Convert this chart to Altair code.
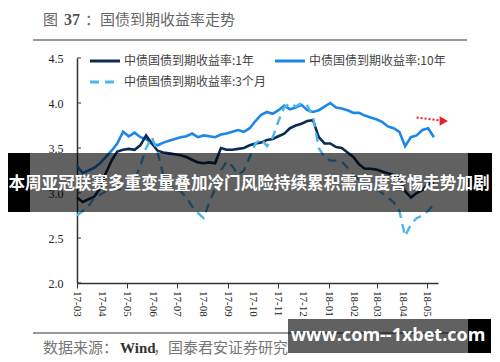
import altair as alt
import pandas as pd

# ---------------- data ----------------
week_dates = list(pd.date_range("2017-03-01", periods=63, freq="7D").strftime("%Y-%m-%d"))

y10 = [3.30, 3.22, 3.25, 3.28, 3.33, 3.40, 3.47, 3.55, 3.68, 3.63,
       3.67, 3.62, 3.60, 3.55, 3.53, 3.56, 3.58, 3.60, 3.62, 3.63,
       3.66, 3.62, 3.64, 3.63, 3.62, 3.65, 3.66, 3.68, 3.70, 3.68,
       3.72, 3.80, 3.87, 3.90, 3.88, 3.92, 3.97, 3.93, 3.95, 3.98,
       3.92, 3.90, 3.92, 3.96, 4.00, 3.95, 3.94, 3.92, 3.89, 3.89,
       3.86, 3.84, 3.82, 3.79, 3.74, 3.72, 3.68, 3.52, 3.62, 3.64,
       3.70, 3.72, 3.62]

y1 = [2.95, 2.90, 2.93, 2.96, 3.05, 3.22, 3.36, 3.46, 3.48, 3.49,
      3.48, 3.53, 3.64, 3.55, 3.47, 3.45, 3.44, 3.43, 3.42, 3.40,
      3.37, 3.34, 3.33, 3.34, 3.33, 3.50, 3.48, 3.48, 3.49, 3.50,
      3.53, 3.55, 3.56, 3.59, 3.60, 3.63, 3.66, 3.72, 3.75, 3.77,
      3.80, 3.81, 3.62, 3.55, 3.55, 3.51, 3.50, 3.45, 3.40, 3.32,
      3.27, 3.27, 3.26, 3.24, 3.22, 3.20, 3.17, 3.02, 2.95, 3.00,
      3.03, 3.10, 3.12]

m3 = [2.75, 2.80, 2.85, 2.95, 2.98, 3.02, 3.05, 3.05, 3.03, 3.05,
      3.15, 3.30, 3.50, 3.62, 3.45, 3.20, 3.10, 3.05, 3.02, 2.95,
      2.85, 2.78, 2.72, 2.90, 3.05, 3.25, 3.35, 3.30, 3.20, 3.25,
      3.40, 3.55, 3.60, 3.52, 3.62, 3.80, 3.95, 4.00, 3.96, 4.00,
      3.97, 3.85, 3.50, 3.40, 3.36, 3.36, 3.35, 3.28, 3.20, 3.15,
      3.10, 3.08, 3.05, 3.00, 2.95, 2.90, 2.80, 2.52, 2.65, 2.72,
      2.75, 2.80, 2.88]

series_names = ["中债国债到期收益率:1年", "中债国债到期收益率:10年", "中债国债到期收益率:3个月"]
series_colors = ["#0c2c56", "#1c87e6", "#4cb6ea"]

y_ticks = [2.0, 2.5, 3.0, 3.5, 4.0, 4.5]
month_ticks = ["2017-03-01", "2017-04-01", "2017-05-01", "2017-06-01", "2017-07-01",
               "2017-08-01", "2017-09-01", "2017-10-01", "2017-11-01", "2017-12-01",
               "2018-01-01", "2018-02-01", "2018-03-01", "2018-04-01", "2018-05-01"]
month_labels = ["17-03", "17-04", "17-05", "17-06", "17-07", "17-08", "17-09", "17-10",
                "17-11", "17-12", "18-01", "18-02", "18-03", "18-04", "18-05"]
x_domain = ["2017-03-01", "2018-05-14"]

arrow_dates = ["2018-04-18", "2018-05-21"]
arrow_vals = [3.84, 3.80]

title_text = ["图", "37", "：国债到期收益率走势"]
source_text = ["数据来源：", "Wind", "，国泰君安证券研究"]
banner_text = "本周亚冠联赛多重变量叠加冷门风险持续累积需高度警惕走势加剧"
banner2_text = "www.com--1xbet.com"

# ---------------- build ----------------
def ms(s):
    return int(pd.Timestamp(s, tz="UTC").value // 10**6)

df = pd.DataFrame({
    "date": week_dates * 3,
    "value": y1 + y10 + m3,
    "series": [series_names[0]] * len(y1) + [series_names[1]] * len(y10) + [series_names[2]] * len(m3),
})

xscale = alt.Scale(type="utc", domain=[ms(d) for d in x_domain])
yscale = alt.Scale(domain=[2.0, 4.5], nice=False, zero=False)

xaxis = alt.Axis(values=[ms(d) for d in month_ticks], labels=False,
                 tickSize=5, tickColor="#333", domainColor="#333", domainWidth=1.5,
                 grid=False, title=None)
yaxis = alt.Axis(values=y_ticks, format=".1f", labelFont="Liberation Serif",
                 labelFontSize=12, labelColor="#222", ticks=False, labelPadding=14,
                 labelOverlap=False, domainColor="#333", domainWidth=1.5, grid=False, title=None)

base = alt.Chart(df)

def line(idx, dash=None, width=2.6):
    kw = dict(color=series_colors[idx], strokeWidth=width, clip=False)
    if dash:
        kw["strokeDash"] = dash
    return base.transform_filter(alt.datum.series == series_names[idx]).mark_line(**kw).encode(
        x=alt.X("date:T", scale=xscale, axis=xaxis),
        y=alt.Y("value:Q", scale=yscale, axis=yaxis),
    )

l10 = line(1)
l1 = line(0)
l3 = line(2, dash=[9, 6], width=2.4)

ytick_rules = alt.Chart(pd.DataFrame({"value": y_ticks})).mark_rule(color="#333", strokeWidth=1).encode(
    y=alt.Y("value:Q", scale=yscale), x=alt.value(0), x2=alt.value(4))

xlabels = alt.Chart(pd.DataFrame({"date": month_ticks, "lab": month_labels})).mark_text(
    angle=90, align="left", baseline="middle", font="Liberation Serif", fontSize=11, color="#222"
).encode(x=alt.X("date:T", scale=xscale), y=alt.value(233), text="lab:N")

one = pd.DataFrame({"a": [0]})

def rule(x1, x2, y1_, y2_, color, width, dash=None):
    kw = dict(color=color, strokeWidth=width)
    if dash:
        kw["strokeDash"] = dash
    return alt.Chart(one).mark_rule(**kw).encode(
        x=alt.value(x1), x2=alt.value(x2), y=alt.value(y1_), y2=alt.value(y2_))

def text(x, y, s, size, color="#444", font="Noto Sans CJK SC", weight="normal", align="left"):
    return alt.Chart(one).mark_text(align=align, baseline="middle", fontSize=size, font=font,
                                    fontWeight=weight, color=color).encode(
        x=alt.value(x), y=alt.value(y), text=alt.value(s))

def rect(x1, x2, y1_, y2_, color, opacity=1.0):
    return alt.Chart(one).mark_rect(color=color, opacity=opacity).encode(
        x=alt.value(x1), x2=alt.value(x2), y=alt.value(y1_), y2=alt.value(y2_))

# legend
legend = [
    rule(13, 43, 3, 3, series_colors[0], 3),
    text(47, 3, series_names[0], 12),
    rule(198, 228, 3, 3, series_colors[1], 3),
    text(232, 3, series_names[1], 12),
    rule(13, 41, 24, 24, series_colors[2], 3, dash=[9, 6]),
    text(47, 24, series_names[2], 12),
]

# arrow
arrow_df = pd.DataFrame({"d1": [arrow_dates[0]], "d2": [arrow_dates[1]],
                         "v1": [arrow_vals[0]], "v2": [arrow_vals[1]]})
arrow_line = alt.Chart(arrow_df).mark_rule(color="#e8202a", strokeWidth=2, strokeDash=[2, 2]).encode(
    x=alt.X("d1:T", scale=xscale), x2="d2:T",
    y=alt.Y("v1:Q", scale=yscale), y2="v2:Q")
arrow_head = alt.Chart(arrow_df).mark_point(shape="triangle-right", filled=True, size=90,
                                            color="#e8202a", opacity=1).encode(
    x=alt.X("d2:T", scale=xscale), y=alt.Y("v2:Q", scale=yscale))

# frame texts
frame = [
    text(-34, -38, title_text[0], 15, color="#666"),
    text(-13, -38, title_text[1], 16, color="#555", font="Liberation Serif", weight="bold"),
    text(8, -38, title_text[2], 15, color="#666"),
    rule(-44, 390, -18, -18, "#777", 1.5),
    rule(-44, 390, 275, 275, "#777", 1.5),
    text(-34, 290, source_text[0], 15, color="#777"),
    text(43, 290, source_text[1], 15, color="#333", font="Liberation Serif", weight="bold"),
    text(76, 290, source_text[2], 15, color="#777"),
]

# overlay banners
banners = [
    rect(-73, -47, 95, 154, "#000000"),
    rect(-47, 391, 95, 154, "#000000", 0.62),
    rect(391, 415, 95, 154, "#000000"),
    text(172, 126, banner_text, 16.6, color="#ffffff", weight="bold", align="center"),
    rect(211, 391, 261, 295, "#000000", 0.62),
    rect(391, 414, 261, 295, "#000000"),
    text(311, 278, banner2_text, 18, color="#ffffff", font="Open Sans", weight="bold", align="center"),
]

chart = alt.layer(
    l10, l1, l3, ytick_rules, xlabels, *legend, arrow_line, arrow_head, *frame, *banners
).properties(
    width=361, height=225,
    autosize=alt.AutoSizeParams(type="none"),
    padding={"left": 69, "top": 50, "right": 54, "bottom": 79},
    background="white",
).configure_view(stroke=None)

chart.save("out.html", embed_options={"renderer": "svg", "actions": False})
